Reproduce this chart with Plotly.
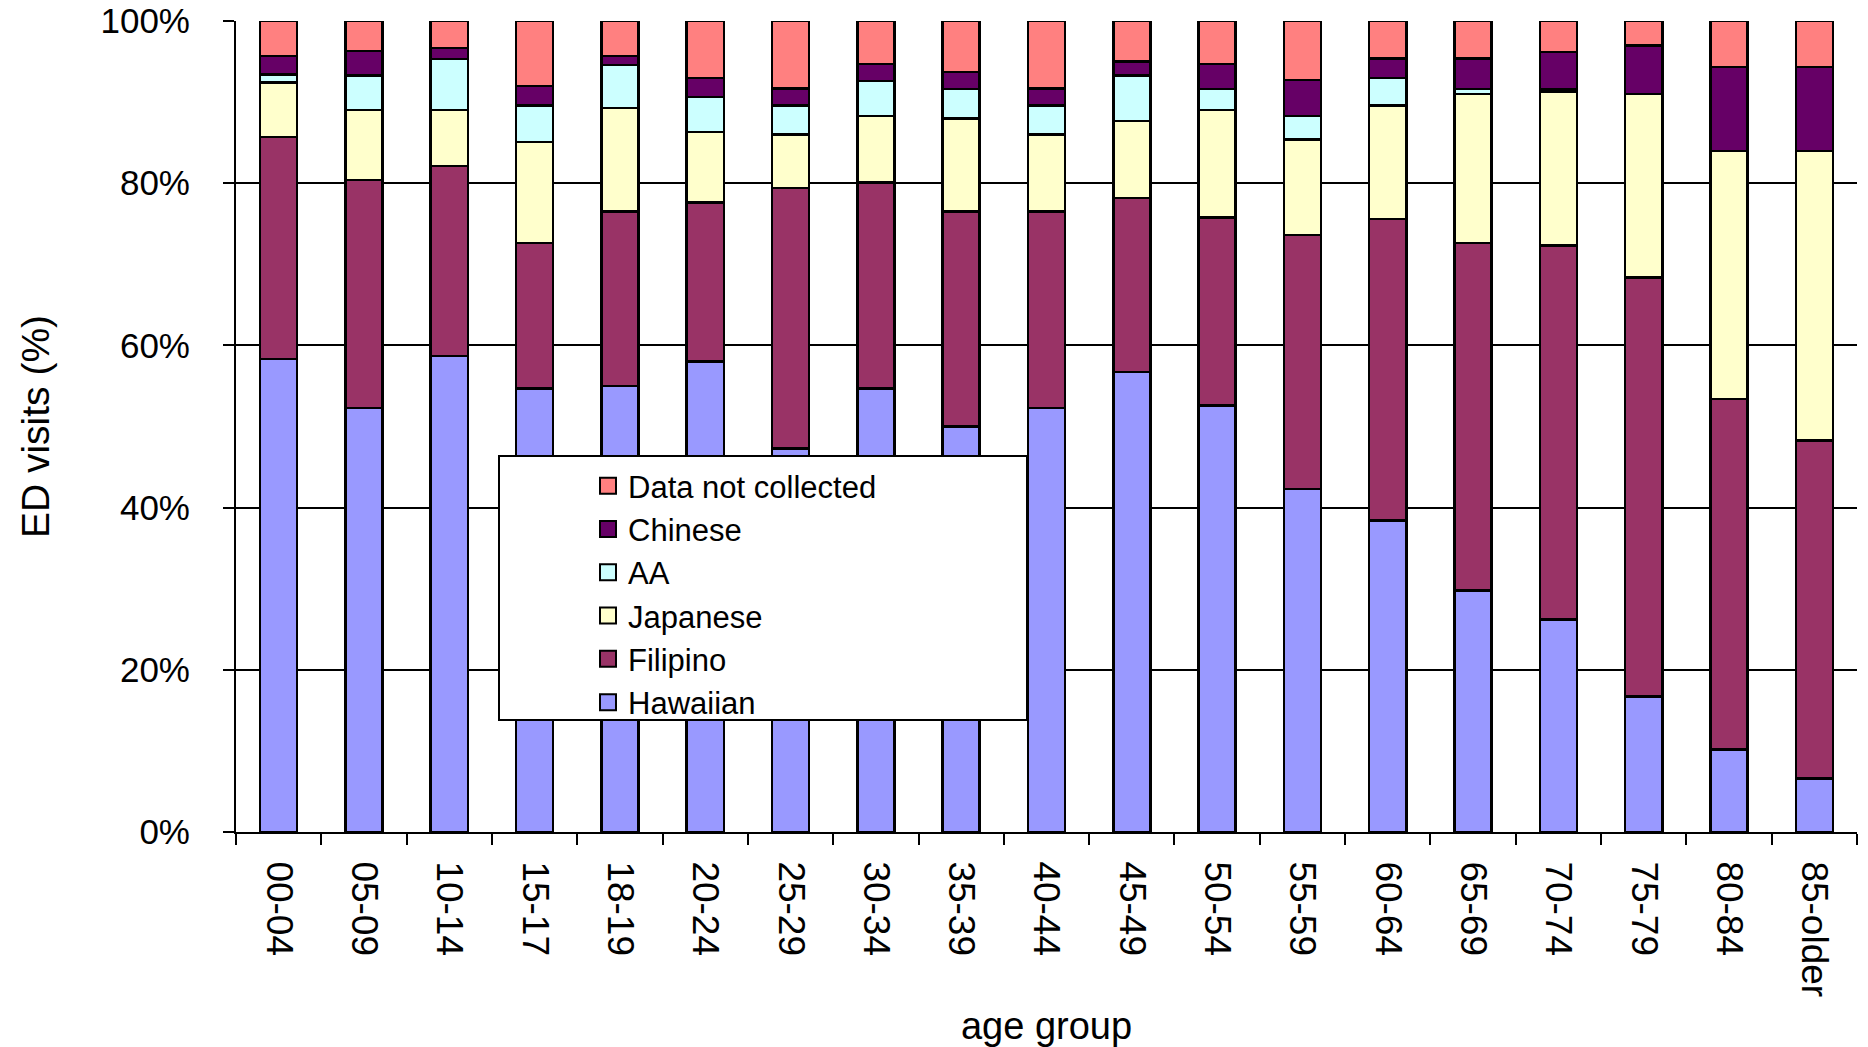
import plotly.graph_objects as go

categories = ["00-04", "05-09", "10-14", "15-17", "18-19", "20-24", "25-29", "30-34",
              "35-39", "40-44", "45-49", "50-54", "55-59", "60-64", "65-69", "70-74",
              "75-79", "80-84", "85-older"]

hawaiian = [58.3, 52.3, 58.7, 54.7, 55.0, 58.0, 47.3, 54.7, 50.0, 52.3, 56.7, 52.6, 42.3, 38.4, 29.8, 26.2, 16.7, 10.2, 6.6]
filipino = [27.4, 28.1, 23.4, 17.9, 21.5, 19.6, 32.1, 25.4, 26.5, 24.2, 21.5, 23.2, 31.3, 37.2, 42.8, 46.1, 51.7, 43.2, 41.7]
japanese = [6.7, 8.6, 6.9, 12.5, 12.8, 8.7, 6.6, 8.2, 11.5, 9.5, 9.5, 13.2, 11.8, 14.0, 18.4, 19.0, 22.6, 30.6, 35.7]
aa = [1.0, 4.3, 6.3, 4.5, 5.3, 4.3, 3.6, 4.3, 3.6, 3.6, 5.6, 2.6, 2.9, 3.4, 0.6, 0.3, 0.0, 0.0, 0.0]
chinese = [2.3, 3.0, 1.4, 2.4, 1.1, 2.4, 2.1, 2.1, 2.1, 2.1, 1.7, 3.1, 4.4, 2.4, 3.8, 4.6, 6.0, 10.3, 10.3]
not_collected = [4.3, 3.7, 3.3, 8.0, 4.3, 7.0, 8.3, 5.3, 6.3, 8.3, 5.0, 5.3, 7.3, 4.6, 4.6, 3.8, 3.0, 5.7, 5.7]

series_names = ["Hawaiian", "Filipino", "Japanese", "AA", "Chinese", "Data not collected"]
series_values = [hawaiian, filipino, japanese, aa, chinese, not_collected]
series_colors = ["#9999FF", "#993366", "#FFFFCC", "#CCFFFF", "#660066", "#FF8080"]

y_ticks = [0, 20, 40, 60, 80, 100]
y_tick_labels = ["0%", "20%", "40%", "60%", "80%", "100%"]

FONT = "Liberation Sans, Arial, sans-serif"

fig = go.Figure()
for name, vals, col in zip(series_names, series_values, series_colors):
    fig.add_trace(go.Bar(
        x=categories, y=vals, name=name, legendgroup=name, showlegend=False,
        marker=dict(color=col, line=dict(color="black", width=2.5)),
    ))
# legend entries (larger square swatches)
for name, col in zip(series_names, series_colors):
    fig.add_trace(go.Scatter(
        x=[None], y=[None], mode="markers", name=name, legendgroup=name,
        marker=dict(symbol="square", size=16, color=col, line=dict(color="black", width=2)),
    ))

W, H = 1868, 1047
L, T = 236, 21
R = W - 1857
B = H - 832
pw, ph = W - L - R, H - T - B

def px_x(x):
    return (x - L) / pw

def px_y(y):
    return (H - B - y) / ph

fig.add_shape(type="rect", xref="paper", yref="paper",
              x0=px_x(499), x1=px_x(1027), y0=px_y(720), y1=px_y(456),
              fillcolor="white", line=dict(color="black", width=2), layer="above")

fig.update_layout(
    width=W, height=H,
    margin=dict(l=L, r=R, t=T, b=B, autoexpand=False),
    paper_bgcolor="white", plot_bgcolor="white",
    barmode="stack", bargap=0.565,
    font=dict(family=FONT, color="black", size=36),
    showlegend=True,
    legend=dict(
        x=px_x(588), y=px_y(459), xanchor="left", yanchor="top",
        traceorder="reversed", bgcolor="rgba(0,0,0,0)", borderwidth=0,
        font=dict(family=FONT, size=31, color="black"),
        tracegroupgap=0,
    ),
    xaxis=dict(
        type="category", tickangle=90, showgrid=False,
        showline=True, linecolor="black", linewidth=2,
        ticks="outside", tickson="boundaries", ticklen=11, tickwidth=2, tickcolor="black",
        ticklabelstandoff=20,
        tickfont=dict(family=FONT, size=37, color="black"),
        title=dict(text="age group", font=dict(family=FONT, size=38, color="black"), standoff=16),
    ),
    yaxis=dict(
        range=[0, 100], tickmode="array", tickvals=y_ticks, ticktext=y_tick_labels,
        ticklabeloverflow="allow",
        showgrid=True, gridcolor="black", gridwidth=1.5,
        showline=True, linecolor="black", linewidth=2, zeroline=False,
        ticks="outside", ticklen=11, tickwidth=2, tickcolor="black",
        ticklabelstandoff=26,
        tickfont=dict(family=FONT, size=35, color="black"),
        title=dict(text="ED visits (%)", font=dict(family=FONT, size=39, color="black"), standoff=39),
    ),
)

# remove the default 8px page margin so the figure fills the window exactly
fig.write_html("out.html", config={"displayModeBar": False},
               post_script="document.body.style.margin='0';")
